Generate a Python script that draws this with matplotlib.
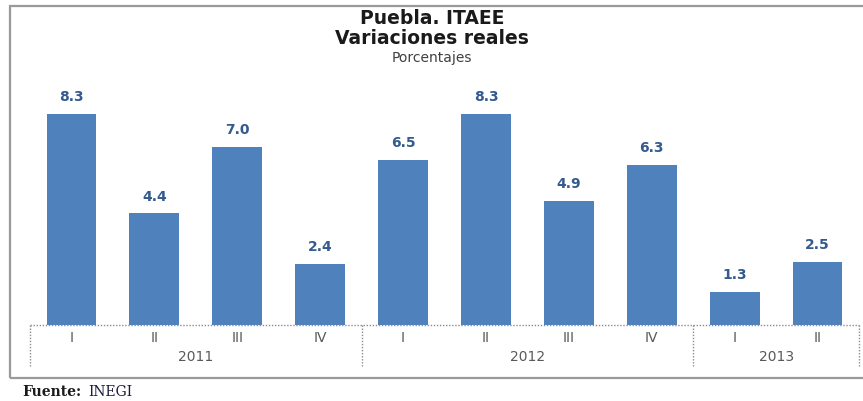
import matplotlib
matplotlib.use("Agg")
import matplotlib.pyplot as plt
from matplotlib.patches import Rectangle

quarters = ["I", "II", "III", "IV", "I", "II", "III", "IV", "I", "II"]
years = ["2011", "2012", "2013"]
year_sizes = [4, 4, 2]
values = [8.3, 4.4, 7.0, 2.4, 6.5, 8.3, 4.9, 6.3, 1.3, 2.5]

W, H = 863, 401
plt.rcParams['font.family'] = ['DejaVu Sans']
fig = plt.figure(figsize=(W / 100, H / 100), dpi=100)

# outer frame
fig.patches.append(Rectangle((10 / W, 1 - 378 / H), (W + 20 - 10) / W, (378 - 6) / H,
                             transform=fig.transFigure, fill=False,
                             edgecolor="#9a9a9a", linewidth=1.6, zorder=0))

ax_left, ax_right = 30, 859
ax_bottom, ax_top = 325, 40
ax = fig.add_axes([ax_left / W, 1 - ax_bottom / H, (ax_right - ax_left) / W, (ax_bottom - ax_top) / H])
ax.set_facecolor("none")
x = list(range(len(values)))
ax.bar(x, values, width=0.6, color="#4F81BD", zorder=2)
ax.set_xlim(-0.5, len(values) - 0.5)
ax.set_ylim(0, 285 / 25.4)
for s in ax.spines.values():
    s.set_visible(False)
ax.set_xticks([])
ax.set_yticks([])

for xi, v in zip(x, values):
    ax.annotate(f"{v:.1f}", (xi, v), xytext=(0, 7), textcoords="offset points",
                ha="center", va="bottom", fontsize=10, fontweight="bold", color="#345A8E")

trans = ax.get_xaxis_transform()
hpx = ax_bottom - ax_top
dot_kw = dict(color="#8c8c8c", linewidth=1.0, linestyle=(0, (1, 1.2)), clip_on=False)
ax.plot([-0.5, len(values) - 0.5], [0, 0], transform=trans, **dot_kw)
for xi, q in zip(x, quarters):
    ax.text(xi, -13 / hpx, q, transform=trans, ha="center", va="center",
            fontsize=10, color="#595959")
start = 0
bounds = [-0.5]
for yr, n in zip(years, year_sizes):
    mid = start + (n - 1) / 2
    ax.text(mid, -32 / hpx, yr, transform=trans, ha="center", va="center",
            fontsize=10, color="#595959")
    start += n
    bounds.append(start - 0.5)
for b in bounds:
    ax.plot([b, b], [0, -41 / hpx], transform=trans, **dot_kw)

fig.text(432 / W, 1 - 18 / H, "Puebla. ITAEE", ha="center", va="center",
         fontsize=13.5, fontweight="bold", color="#1a1a1a")
fig.text(432 / W, 1 - 39 / H, "Variaciones reales", ha="center", va="center",
         fontsize=13.5, fontweight="bold", color="#1a1a1a")
fig.text(432 / W, 1 - 58 / H, "Porcentajes", ha="center", va="center",
         fontsize=10, color="#404040")

fig.text(22 / W, 1 - 392 / H, "Fuente:", ha="left", va="center",
         fontsize=10, fontweight="bold", family="DejaVu Serif", color="#1a1a1a")
fig.text(88 / W, 1 - 392 / H, "INEGI", ha="left", va="center",
         fontsize=10, family="DejaVu Serif", color="#1a1a3a")

fig.savefig("out.png", dpi=100)
